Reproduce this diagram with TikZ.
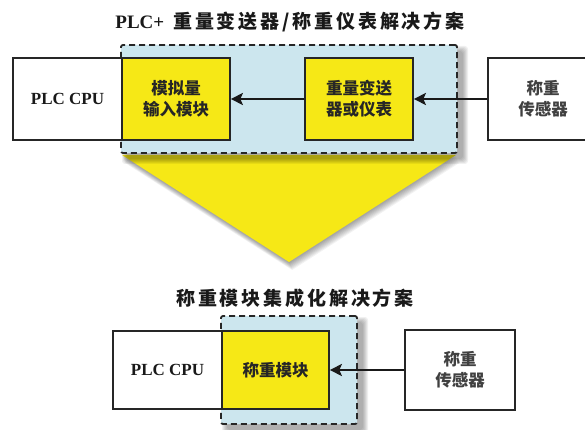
\documentclass[tikz,border=0pt]{standalone}
\usepackage{fontspec}
\setmainfont{Liberation Serif}
\newfontfamily\cjk{Noto Sans CJK SC}
\newfontfamily\cjkt[LetterSpace=15]{Noto Sans CJK SC}
\usetikzlibrary{arrows.meta,calc}
\definecolor{myyellow}{RGB}{246,232,22}
\definecolor{myblue}{RGB}{204,230,238}
\begin{document}
\begin{tikzpicture}[x=1pt,y=-1pt,
  wbox/.style={rectangle, draw=black!85, line width=1.7pt, fill=white, inner sep=0pt, align=center},
  ybox/.style={rectangle, draw=black!85, line width=1.7pt, fill=myyellow, inner sep=0pt, align=center,
     font=\cjk\bfseries\fontsize{16.5}{21}\selectfont, text=black!85},
  stxt/.style={font=\cjk\bfseries\fontsize{16.5}{21}\selectfont, text=black!75},
  ptxt/.style={font=\bfseries\fontsize{17}{20}\selectfont, text=black!90},
  zone/.style={rectangle, draw=black!85, dash pattern=on 6pt off 4pt, line width=1.8pt, fill=myblue,
     rounded corners=2pt, inner sep=0pt},
  flow/.style={line width=2.8pt, draw=black!90, -{Stealth[length=12pt,width=12pt,inset=2.5pt]}},
  ttl/.style={text=black!90, inner sep=0pt}
]
\useasboundingbox (0,0) rectangle (585,430);
\clip (0,0) rectangle (585,430);
\fill[white] (0,0) rectangle (585,430);

% titles
\node[ttl] (t1) at (290,22) {{\bfseries\fontsize{19}{22}\selectfont PLC+}\hspace{9pt}{\cjkt\bfseries\fontsize{19}{22}\selectfont 重量变送器/称重仪表解决方案}};
\node[ttl] (t2) at (295,298) {\cjkt\bfseries\fontsize{19}{22}\selectfont 称重模块集成化解决方案};

% funnel shadow and funnel
\foreach \e in {1,...,8}
  \fill[black, opacity=0.05] (122+0.4*\e,155+\e) -- (456+0.4*\e,155+\e) -- (289+0.4*\e,262+\e) -- cycle;
\fill[myyellow] (122,155) -- (456,155) -- (289,262) -- cycle;

% top group
\coordinate (d1c) at (289,99);
\foreach \e in {0,...,5}
  \fill[black, opacity=0.06, rounded corners=3pt] ($(d1c)+(-168+6-\e,-54+6-\e)$) rectangle ($(d1c)+(168+6+\e,54+6+\e)$);
\node[zone, minimum width=336pt, minimum height=108pt] (dash1) at (d1c) {};
\node[wbox, minimum width=109pt, minimum height=82pt] (plc1) at (67.5,99) {};
\node[ptxt] (plc1t) at (plc1) {PLC CPU};
\node[ybox, minimum width=108pt, minimum height=82pt] (mod1) at (176,99) {模拟量\\输入模块};
\node[ybox, minimum width=108pt, minimum height=82pt] (trans) at (359,99) {重量变送\\器或仪表};
\node[wbox, minimum width=110pt, minimum height=82pt] (sens1) at (543,99) {};
\node[stxt, align=center] (sens1t) at (sens1) {称重\\传感器};
\draw[flow] (sens1.west) -- (trans.east);
\draw[flow] (trans.west) -- (mod1.east);

% bottom group
\coordinate (d2c) at (289,370);
\foreach \e in {0,...,5}
  \fill[black, opacity=0.06, rounded corners=3pt] ($(d2c)+(-68+6-\e,-54+6-\e)$) rectangle ($(d2c)+(68+6+\e,54+6+\e)$);
\node[zone, minimum width=136pt, minimum height=108pt] (dash2) at (d2c) {};
\node[wbox, minimum width=109pt, minimum height=78pt] (plc2) at (167.5,370) {};
\node[ptxt] (plc2t) at (plc2) {PLC CPU};
\node[ybox, minimum width=107pt, minimum height=78pt] (mod2) at (275.5,370) {称重模块};
\node[wbox, minimum width=110pt, minimum height=80pt] (sens2) at (460,370) {};
\node[stxt, align=center] (sens2t) at (sens2) {称重\\传感器};
\draw[flow] (sens2.west) -- (mod2.east);
\end{tikzpicture}
\end{document}
